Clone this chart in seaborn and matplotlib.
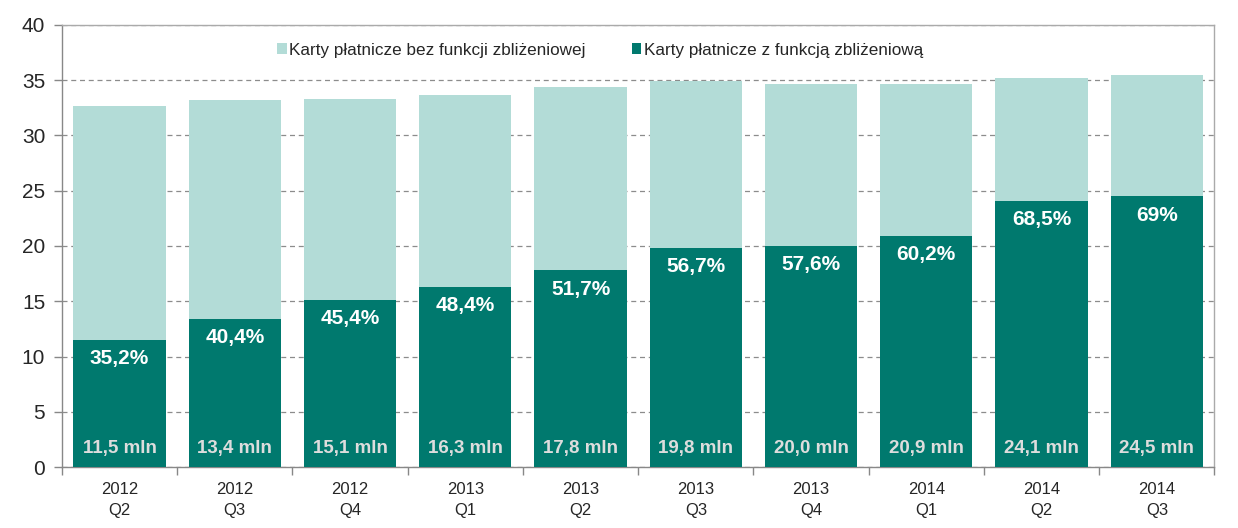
import matplotlib
matplotlib.use("Agg")
import matplotlib.pyplot as plt
import seaborn as sns
import pandas as pd
import numpy as np
from matplotlib.patches import Patch

categories = ["2012\nQ2", "2012\nQ3", "2012\nQ4", "2013\nQ1", "2013\nQ2",
              "2013\nQ3", "2013\nQ4", "2014\nQ1", "2014\nQ2", "2014\nQ3"]
contactless = [11.5, 13.4, 15.1, 16.3, 17.8, 19.8, 20.0, 20.9, 24.1, 24.5]
total_cards = [32.7, 33.2, 33.3, 33.7, 34.4, 34.9, 34.7, 34.7, 35.2, 35.5]
pct_labels = ["35,2%", "40,4%", "45,4%", "48,4%", "51,7%", "56,7%", "57,6%", "60,2%", "68,5%", "69%"]
mln_labels = ["11,5 mln", "13,4 mln", "15,1 mln", "16,3 mln", "17,8 mln",
              "19,8 mln", "20,0 mln", "20,9 mln", "24,1 mln", "24,5 mln"]
series_names = ["Karty płatnicze bez funkcji zbliżeniowej", "Karty płatnicze z funkcją zbliżeniową"]

LIGHT = "#B3DCD7"
DARK = "#00796E"

sns.set_style("white")
plt.rcParams["font.family"] = ["Liberation Sans", "DejaVu Sans"]

df = pd.DataFrame({"cat": categories, "total": total_cards, "dark": contactless})

fig = plt.figure(figsize=(12.38, 5.28), dpi=100)
ax = fig.add_axes([0.050, 0.1155, 0.931, 0.8372])

sns.barplot(data=df, x="cat", y="total", color=LIGHT, saturation=1, width=0.8, ax=ax,
            zorder=2, linewidth=0, edgecolor="none")
sns.barplot(data=df, x="cat", y="dark", color=DARK, saturation=1, width=0.8, ax=ax,
            zorder=3, linewidth=0, edgecolor="none")

ax.set_ylim(0, 40)
ax.set_xlim(-0.5, len(categories) - 0.5)
ax.set_yticks(np.arange(0, 41, 5))
ax.yaxis.grid(True, linestyle=(0, (4, 3)), color="#8c8c8c", linewidth=0.9, zorder=0)
ax.set_axisbelow(True)
ax.set_xlabel("")
ax.set_ylabel("")

ax.tick_params(axis="y", labelsize=15, length=6, width=1, color="#888888", direction="out", left=True, pad=6)
ax.tick_params(axis="x", which="major", labelsize=12, length=0, pad=11)
ax.set_xticks(np.arange(-0.5, len(categories), 1.0), minor=True)
ax.tick_params(axis="x", which="minor", length=6, width=1, color="#888888", direction="out", bottom=True)
for lbl in ax.get_xticklabels():
    lbl.set_linespacing(1.45)

for side in ["left", "bottom"]:
    ax.spines[side].set_color("#888888")
    ax.spines[side].set_linewidth(1.0)
for side in ["top", "right"]:
    ax.spines[side].set_color("#AAAAAA")
    ax.spines[side].set_linewidth(1.0)
    ax.spines[side].set_visible(True)

for i, (d, p, m) in enumerate(zip(contactless, pct_labels, mln_labels)):
    ax.annotate(p, xy=(i, d), xytext=(0, -13.5), textcoords="offset points",
                ha="center", va="center", color="white", fontsize=15, fontweight="bold", zorder=5)
    ax.annotate(m, xy=(i, 0), xytext=(0, 13.5), textcoords="offset points",
                ha="center", va="center", color="#DDDDDD", fontsize=13.5, fontweight="bold", zorder=5)

handles = [Patch(facecolor=LIGHT, edgecolor="none"), Patch(facecolor=DARK, edgecolor="none")]
ax.legend(handles, series_names, loc="center", bbox_to_anchor=(0.467, 0.943), ncol=2, frameon=False,
          fontsize=12.3, handlelength=0.55, handleheight=0.55, handletextpad=0.15, columnspacing=2.7,
          borderaxespad=0.0, borderpad=0.0)

fig.savefig("out.png", dpi=100)
